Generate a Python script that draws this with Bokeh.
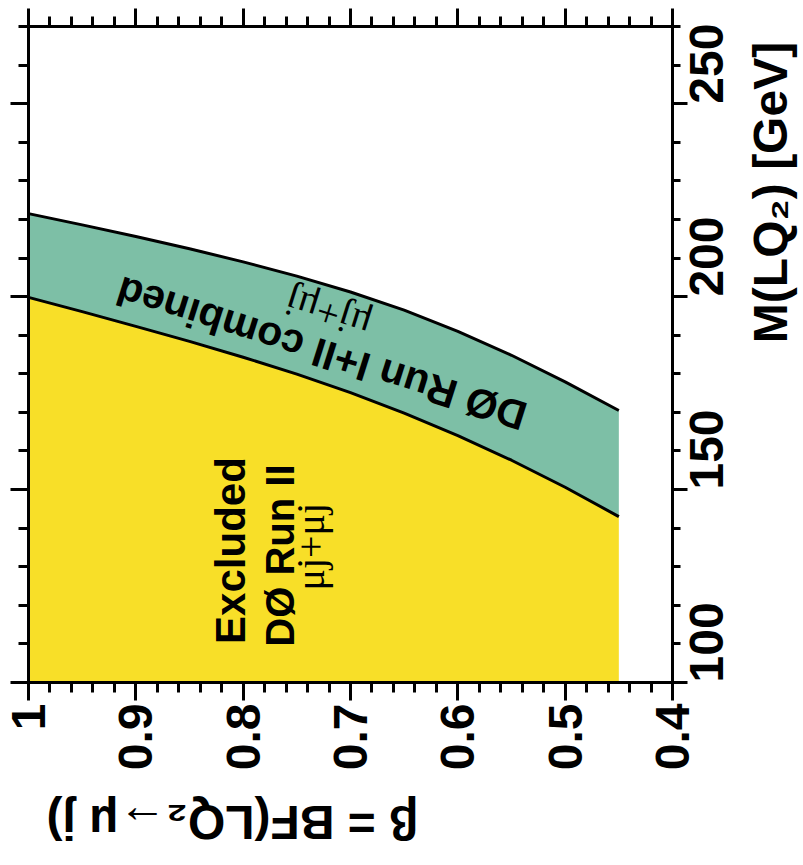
import numpy as np
from math import pi
from bokeh.plotting import figure
from bokeh.models import Range1d, LinearAxis, FixedTicker, CustomJSTickFormatter, Label
from bokeh.embed import file_html
from bokeh.resources import INLINE

# ---- data ----
beta = [1.0, 0.95, 0.9, 0.85, 0.8, 0.75, 0.7, 0.65, 0.6, 0.55, 0.5, 0.45]
m_run2 = [199.8, 196.1, 192.3, 188.4, 184.3, 179.9, 175.1, 169.8, 164.0, 157.6, 150.6, 143.0]
m_comb = [221.5, 218.6, 215.6, 212.4, 209.0, 205.3, 201.2, 196.5, 191.0, 184.8, 177.9, 170.5]
m_floor = [100.0] * len(beta)

beta_ticks = [1.0, 0.9, 0.8, 0.7, 0.6, 0.5, 0.4]
beta_tick_labels = ["1", "0.9", "0.8", "0.7", "0.6", "0.5", "0.4"]
mass_ticks = [100, 150, 200, 250]
mass_tick_labels = ["100", "150", "200", "250"]
x_title = "\u03b2 = BF(LQ\u2082\u2192\u03bc j)"
y_title = "M(LQ\u2082) [GeV]"

YELLOW = "#F8DF28"
GREEN = "#7DBFA6"
FONT = "Liberation Sans"

# plot box (the drawn frame) and the room kept around it for ticks and texts
B_LEFT, B_RIGHT = 1.0, 0.4
M_LO, M_HI = 100, 270
BOX_W, BOX_H = 644, 656
PAD_LEFT, PAD_TOP, PAD_RIGHT, PAD_BOTTOM = 28, 26, 131, 183
b_per_px = (B_LEFT - B_RIGHT) / BOX_W
m_per_px = (M_HI - M_LO) / BOX_H

p = figure(width=803, height=865,
           x_range=Range1d(B_LEFT + PAD_LEFT * b_per_px, B_RIGHT - PAD_RIGHT * b_per_px),
           y_range=Range1d(M_LO - PAD_BOTTOM * m_per_px, M_HI + PAD_TOP * m_per_px),
           output_backend="svg", toolbar_location=None,
           x_axis_location=None, y_axis_location=None,
           min_border_left=0, min_border_top=0,
           min_border_right=0, min_border_bottom=0)
p.background_fill_color = "white"
p.border_fill_color = "white"
p.outline_line_color = None
for g in p.grid:
    g.visible = False

p.varea(x=beta, y1=m_floor, y2=m_run2, fill_color=YELLOW)
p.varea(x=beta, y1=m_run2, y2=m_comb, fill_color=GREEN)
p.line(beta, m_run2, line_color="black", line_width=3)
p.line(beta, m_comb, line_color="black", line_width=3)

beta_minor = [round(v, 2) for v in np.arange(0.4, 1.0001, 0.02)]
mass_minor = list(range(M_LO, M_HI + 1, 10))


def fmt(vals, labs):
    return CustomJSTickFormatter(args=dict(vals=vals, labs=labs), code="""
        let b = 0;
        for (let i = 0; i < vals.length; i++) {
            if (Math.abs(vals[i] - tick) < Math.abs(vals[b] - tick)) b = i;
        }
        return labs[b];
    """)


def blank():
    return CustomJSTickFormatter(code="return '';")


def tick_axis(ticks, minor, maj_out, min_out, formatter, bounds, loc):
    ax = LinearAxis(ticker=FixedTicker(ticks=ticks, minor_ticks=minor), formatter=formatter,
                    bounds=bounds, fixed_location=loc)
    ax.axis_line_width = 3
    ax.axis_line_color = "black"
    ax.major_tick_line_width = 3
    ax.minor_tick_line_width = 3
    ax.major_tick_in = 0
    ax.minor_tick_in = 0
    ax.major_tick_out = maj_out
    ax.minor_tick_out = min_out
    ax.major_label_standoff = 0
    ax.major_label_text_font = FONT
    ax.major_label_text_font_style = "bold"
    ax.major_label_text_color = "black"
    ax.major_label_text_font_size = "48px"
    return ax


# bottom edge of the box: ticks + labels
xb = tick_axis(beta_ticks, beta_minor, 18, 10, fmt(beta_ticks, beta_tick_labels),
               (B_RIGHT, B_LEFT), M_LO)
xb.major_label_orientation = pi / 2
xb.major_label_standoff = 3
p.add_layout(xb, "below")

# top and left edges: ticks only
p.add_layout(tick_axis(beta_ticks, beta_minor, 18, 10, blank(), (B_RIGHT, B_LEFT), M_HI), "above")
p.add_layout(tick_axis(mass_ticks, mass_minor, 18, 10, blank(), (M_LO, M_HI), B_LEFT), "left")

# right edge: ticks + labels reading upward, centred on the ticks
yr = tick_axis(mass_ticks, mass_minor, 15, 8, fmt(mass_ticks, mass_tick_labels),
               (M_LO, M_HI), B_RIGHT)
yr.major_label_orientation = -3 * pi / 2
yr.major_label_standoff = 19
p.add_layout(yr, "right")


def lab(x, y, text, size, angle, bold=True, font=FONT):
    p.add_layout(Label(x=x, y=y, text=text, angle=angle,
                       text_font=font, text_font_size=size,
                       text_font_style="bold" if bold else "normal",
                       text_color="black", text_align="center",
                       text_baseline="middle"))


# axis titles (right: reading upward; bottom: upside down)
lab(B_LEFT - (770 - 28) * b_per_px, M_LO + (682 - 192) * m_per_px, y_title, "48px", pi / 2)
lab(B_LEFT - (232 - 28) * b_per_px, M_LO - (822 - 682) * m_per_px, x_title, "48px", pi)

# region texts
lab(0.812, 134.2, "Excluded", "42px", pi / 2)
lab(0.766, 132.9, "D\u00d8 Run II", "40px", pi / 2)
lab(0.737, 135.2, "\u03bcj+\u03bcj", "40px", pi / 2, bold=False, font="Liberation Serif")

band_angle = pi - 0.305
lab(0.727, 185.3, "D\u00d8 Run I+II combined", "41px", band_angle)
lab(0.721, 195.6, "\u03bcj+\u03bcj", "40px", band_angle, bold=False, font="Liberation Serif")

open("out.html", "w").write(file_html(p, INLINE))
